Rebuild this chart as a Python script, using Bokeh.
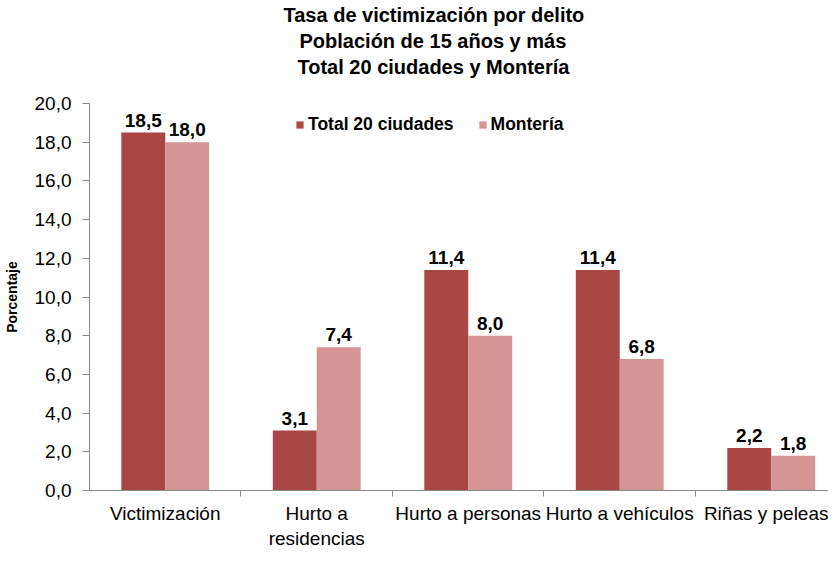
from bokeh.plotting import figure
from bokeh.models import ColumnDataSource, FixedTicker, Legend, LegendItem, Range1d, Title
from bokeh.core.properties import value
from bokeh.embed import file_html
from bokeh.resources import INLINE

categories = ["Victimización", "Hurto a\nresidencias", "Hurto a personas", "Hurto a vehículos", "Riñas y peleas"]
total_20 = [18.5, 3.1, 11.4, 11.4, 2.2]
monteria = [18.0, 7.4, 8.0, 6.8, 1.8]
y_ticks = [0, 2, 4, 6, 8, 10, 12, 14, 16, 18, 20]
series_names = ["Total 20 ciudades", "Montería"]
title_lines = ["Tasa de victimización por delito", "Población de 15 años y más", "Total 20 ciudades y Montería"]

DARK = "#AA4643"
LIGHT = "#D49594"
AXIS = "#888888"
FONT = "Liberation Sans"

centers = [i + 0.5 for i in range(len(categories))]
bw = 0.29
x_dark = [c - bw / 2 for c in centers]
x_light = [c + bw / 2 for c in centers]

def fmt(v):
    return f"{v:.1f}".replace(".", ",")

src_d = ColumnDataSource(dict(x=x_dark, top=total_20, lab=[fmt(v) for v in total_20]))
src_l = ColumnDataSource(dict(x=x_light, top=monteria, lab=[fmt(v) for v in monteria]))

p = figure(frame_width=739, frame_height=387,
           output_backend="svg", toolbar_location=None,
           x_range=Range1d(0, 4.878), y_range=Range1d(0, 20),
           min_border_left=0, min_border_right=0, min_border_top=6, min_border_bottom=0)
p.title = None
# spacer between title block and frame (closest to the frame)
p.add_layout(Title(text=" ", text_font=FONT, text_font_size="12px", standoff=9), "above")
title_offsets = [194, 210, 208]
for t, off in zip(reversed(title_lines), reversed(title_offsets)):
    p.add_layout(Title(text=t, align="left", offset=off, text_font=FONT, text_font_size="20px",
                       text_font_style="bold", text_color="black", standoff=2), "above")

p.outline_line_color = None
p.xgrid.visible = False
p.ygrid.visible = False

r1 = p.vbar(x="x", top="top", width=bw, source=src_d, fill_color=DARK, line_color=None)
r2 = p.vbar(x="x", top="top", width=bw, source=src_l, fill_color=LIGHT, line_color=None)

for src in (src_d, src_l):
    p.text(x="x", y="top", text="lab", source=src, text_align="center", text_baseline="bottom",
           y_offset=-6, text_font=value(FONT), text_font_size="19px", text_font_style="bold",
           text_color="black")

# axes
p.xaxis.ticker = FixedTicker(ticks=centers, minor_ticks=[1, 2, 3, 4])
p.xaxis.major_label_overrides = {c: lab for c, lab in zip(centers, categories)}
p.xaxis.major_tick_line_color = None
p.xaxis.minor_tick_in = 0
p.xaxis.minor_tick_out = 6
p.xaxis.minor_tick_line_color = AXIS
p.xaxis.axis_line_color = AXIS
p.xaxis.major_label_text_font = FONT
p.xaxis.major_label_text_font_size = "19px"
p.xaxis.major_label_text_color = "black"
p.xaxis.major_label_standoff = 6

p.yaxis.ticker = FixedTicker(ticks=y_ticks, minor_ticks=[])
p.yaxis.major_label_overrides = {v: fmt(v) for v in y_ticks}
p.yaxis.major_tick_in = 0
p.yaxis.major_tick_out = 7
p.yaxis.major_tick_line_color = AXIS
p.yaxis.axis_line_color = AXIS
p.yaxis.major_label_text_font = FONT
p.yaxis.major_label_text_font_size = "19px"
p.yaxis.major_label_text_color = "black"
p.yaxis.major_label_standoff = 11
p.yaxis.axis_label = "Porcentaje"
p.yaxis.axis_label_text_font = FONT
p.yaxis.axis_label_text_font_size = "14px"
p.yaxis.axis_label_text_font_style = "bold"
p.yaxis.axis_label_text_color = "black"
p.yaxis.axis_label_standoff = 12

legend = Legend(items=[LegendItem(label=series_names[0], renderers=[r1]),
                       LegendItem(label=series_names[1], renderers=[r2])],
                orientation="horizontal", location=(206, 355),
                label_text_font=FONT, label_text_font_size="17.5px", label_text_font_style="bold",
                label_text_color="black", label_height=16,
                glyph_width=9, glyph_height=9, label_standoff=4, spacing=24,
                border_line_color=None, background_fill_alpha=0, padding=0, margin=0)
p.add_layout(legend, "center")

open("out.html", "w").write(file_html(p, INLINE))
